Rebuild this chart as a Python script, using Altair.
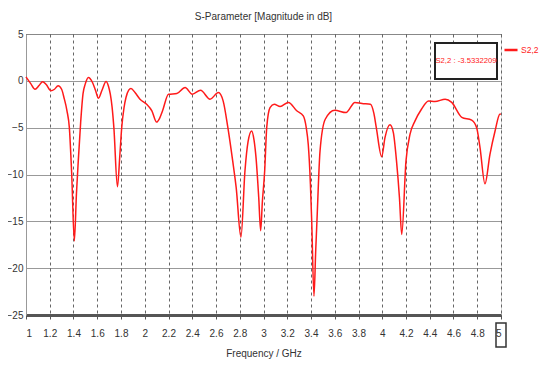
import altair as alt
import pandas as pd

freq = [1.0, 1.04, 1.076, 1.11, 1.14, 1.17, 1.21, 1.24, 1.27, 1.30, 1.32, 1.345, 1.365, 1.385,
        1.407, 1.425, 1.44, 1.46, 1.48, 1.50, 1.525, 1.56, 1.585, 1.61, 1.64, 1.674, 1.695,
        1.71, 1.725, 1.74, 1.77, 1.79, 1.806, 1.825, 1.842, 1.865, 1.884, 1.918, 1.96, 2.016,
        2.06, 2.1, 2.125, 2.15, 2.2, 2.27, 2.34, 2.40, 2.47, 2.55, 2.62, 2.66, 2.70, 2.74,
        2.77, 2.81, 2.844, 2.87, 2.90, 2.92, 2.937, 2.96, 2.976, 2.99, 3.01, 3.027, 3.055,
        3.09, 3.14, 3.21, 3.28, 3.335, 3.36, 3.377, 3.395, 3.406, 3.425, 3.44, 3.45, 3.476,
        3.52, 3.60, 3.695, 3.77, 3.83, 3.90, 3.93, 3.95, 3.995, 4.023, 4.065, 4.093, 4.12,
        4.145, 4.164, 4.2, 4.234, 4.276, 4.33, 4.39, 4.444, 4.53, 4.585, 4.67, 4.753, 4.795,
        4.823, 4.865, 4.907, 4.95, 4.99, 5.0]
s22 = [0.43, -0.3, -0.9, -0.5, -0.1, -0.4, -1.07, -0.9, -0.53, -0.9, -1.8, -3.2, -5.0, -10,
       -17.1, -12, -8.6, -4.5, -1.4, -0.3, 0.36, -0.18, -1.0, -1.85, -1.0, -0.07, -0.6,
       -1.43, -2.8, -5, -11.3, -8, -5, -2.9, -1.78, -1.0, -0.82, -1.25, -1.96, -2.5,
       -3.2, -4.4, -4.0, -3.2, -1.43, -1.36, -0.71, -1.43, -1.0, -1.96, -1.25, -2.14, -5, -8.5,
       -11.4, -16.7, -9.6, -6.5, -5.35, -6.3, -8.2, -12.5, -16.0, -13, -9.6, -5, -2.85,
       -2.5, -2.74, -2.3, -3.2, -3.74, -5, -6.8, -11, -15, -23, -18, -15, -7.5,
       -4.1, -3.14, -3.39, -2.3, -2.42, -2.5, -3.5, -5, -8.1, -6.06, -4.7, -5.5, -8.55,
       -12.5, -16.4, -8.55, -5.7, -4.28, -3.03, -2.14, -2.21, -1.96, -2.3, -3.9, -4.2, -5,
       -7.1, -11.0, -7.85, -5.35, -3.56, -3.53]

x_ticks = [1.0, 1.2, 1.4, 1.6, 1.8, 2.0, 2.2, 2.4, 2.6, 2.8, 3.0, 3.2, 3.4, 3.6, 3.8,
           4.0, 4.2, 4.4, 4.6, 4.8, 5.0]
y_ticks = [-25, -20, -15, -10, -5, 0, 5]
series_name = "S2,2"
marker_text = ["S2,2 : -3.5332209"]

FONT = "Liberation Sans"
RED = "#ff1a1a"
TXT = "#333"

df = pd.DataFrame({"freq": freq, "s22": s22, "series": series_name})

line = alt.Chart(df).mark_line(strokeWidth=1.5, interpolate="monotone").encode(
    x=alt.X("freq:Q", scale=alt.Scale(domain=[1, 5], nice=False, zero=False),
            axis=alt.Axis(values=x_ticks, format=".1~f", title="Frequency / GHz",
                          grid=True, gridDash=[3, 3], gridColor="#666", gridOpacity=1,
                          domainColor="#555", domainWidth=3, tickColor="#555",
                          tickSize=4, labelPadding=9, titlePadding=10,
                          labelFont=FONT, labelFontSize=10, labelColor=TXT,
                          titleFont=FONT, titleFontSize=10, titleFontWeight="normal",
                          titleColor=TXT)),
    y=alt.Y("s22:Q", scale=alt.Scale(domain=[-25, 5], nice=False),
            axis=alt.Axis(values=y_ticks, title=None, grid=True, gridDash=[1, 1],
                          gridColor="#333", gridOpacity=1, domainColor="#999",
                          domainWidth=1, ticks=False, labelPadding=3,
                          labelFont=FONT, labelFontSize=10, labelColor=TXT)),
    color=alt.Color("series:N", scale=alt.Scale(range=[RED]),
                    legend=alt.Legend(title=None, orient="none", legendX=477, legendY=8,
                                      symbolType="stroke", symbolSize=170,
                                      symbolStrokeWidth=2.5, labelFontSize=8.5,
                                      labelColor=RED, labelOffset=2, labelFont=FONT)),
)

box_df = pd.DataFrame({"t": marker_text})
box = alt.Chart(box_df).mark_rect(fill="white", stroke="#222", strokeWidth=2).encode(
    x=alt.value(409), x2=alt.value(471), y=alt.value(9), y2=alt.value(45))
box_text = alt.Chart(box_df).mark_text(color=RED, fontSize=7.7, font=FONT).encode(
    x=alt.value(440), y=alt.value(27), text="t:N")

five_box = alt.Chart(box_df).mark_rect(fill=None, stroke="#333", strokeWidth=1.5,
                                       clip=False).encode(
    x=alt.value(470), x2=alt.value(480), y=alt.value(289), y2=alt.value(313))

chart = alt.layer(line, box, box_text, five_box).properties(
    width=475, height=281,
    autosize=alt.AutoSizeParams(type="none"),
    padding={"left": 18, "top": 26, "right": 39, "bottom": 45},
    title=alt.TitleParams("S-Parameter [Magnitude in dB]", fontSize=10, font=FONT,
                          fontWeight="normal", color=TXT, offset=7, anchor="middle"),
).configure_view(stroke="#888", strokeWidth=2).configure(background="white")

chart.save("out.html", embed_options={"renderer": "svg", "actions": False})
